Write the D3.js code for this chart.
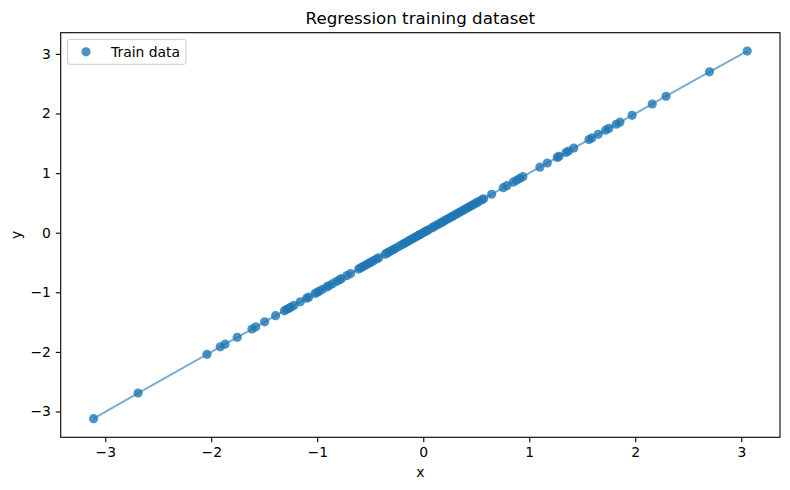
<!DOCTYPE html>
<html><head><meta charset="utf-8">
<script src="https://cdn.jsdelivr.net/npm/d3@7"></script>
<style>
body{margin:0;background:#fff;}
text{font-family:"DejaVu Sans",sans-serif;fill:#000;}
</style></head>
<body><svg id="c" width="790" height="490"></svg>
<script>
const xValues = [-3.11,-2.69,-2.04,-1.915,-1.87,-1.755,-1.616,-1.58,-1.496,-1.393,
 -1.31,-1.29,-1.27,-1.25,-1.22,-1.16,-1.10,-1.08,-1.02,-1.00,-0.98,-0.95,-0.91,-0.89,-0.86,-0.82,-0.79,-0.77,-0.72,-0.685,
 -0.61,-0.59,-0.57,-0.55,-0.53,-0.51,-0.49,-0.47,-0.44,-0.42,-0.36,-0.34,-0.32,-0.30,-0.28,-0.26,-0.23,-0.20,-0.18,-0.16,
 -0.14,-0.12,-0.10,-0.08,-0.06,-0.04,-0.03,-0.01,0.01,0.03,0.05,0.08,0.10,0.12,0.14,0.16,0.18,0.20,0.22,0.24,
 0.26,0.28,0.30,0.32,0.34,0.36,0.38,0.40,0.42,0.44,0.46,0.48,0.50,0.52,0.55,0.57,0.645,
 0.755,0.79,0.85,0.88,0.91,0.94,1.10,1.17,1.264,1.28,1.346,1.37,1.42,1.563,1.59,1.65,1.72,1.75,1.82,1.855,1.97,2.16,2.29,2.70,3.056];
const yValues = [-3.12,-2.69,-2.04,-1.915,-1.87,-1.755,-1.616,-1.58,-1.496,-1.393,
 -1.31,-1.29,-1.27,-1.25,-1.22,-1.16,-1.10,-1.08,-1.02,-1.00,-0.98,-0.95,-0.91,-0.89,-0.86,-0.82,-0.79,-0.77,-0.72,-0.685,
 -0.61,-0.59,-0.57,-0.55,-0.53,-0.51,-0.49,-0.47,-0.44,-0.42,-0.36,-0.34,-0.32,-0.30,-0.28,-0.26,-0.23,-0.20,-0.18,-0.16,
 -0.14,-0.12,-0.10,-0.08,-0.06,-0.04,-0.03,-0.01,0.01,0.03,0.05,0.08,0.10,0.12,0.14,0.16,0.18,0.20,0.22,0.24,
 0.26,0.28,0.30,0.32,0.34,0.36,0.38,0.40,0.42,0.44,0.46,0.48,0.50,0.52,0.55,0.57,0.645,
 0.755,0.79,0.85,0.88,0.91,0.94,1.10,1.17,1.264,1.28,1.346,1.37,1.42,1.563,1.59,1.65,1.72,1.75,1.82,1.855,1.97,2.16,2.29,2.70,3.048];
const xTicks = [-3,-2,-1,0,1,2,3];
const yTicks = [-3,-2,-1,0,1,2,3];
const titleText = "Regression training dataset";
const legendLabel = "Train data";

const svg = d3.select("#c");
const L = 60.7, R = 780, T = 32.7, B = 437.3;
const color = "#1f77b4";
const x = d3.scaleLinear().domain([-3.42, 3.365]).range([L, R]);
const y = d3.scaleLinear().domain([-3.433, 3.356]).range([B, T]);

const pts = xValues.map((v,i)=>({x:v,y:yValues[i]})).sort((a,b)=>a.x-b.x);

const g = svg.append("g");
g.append("path").datum(pts)
 .attr("d", d3.line().x(d=>x(d.x)).y(d=>y(d.y)))
 .attr("fill","none").attr("stroke",color).attr("stroke-opacity",0.6).attr("stroke-width",2);
g.selectAll("circle.p").data(pts).enter().append("circle").attr("class","p")
 .attr("cx",d=>x(d.x)).attr("cy",d=>y(d.y)).attr("r",4.6)
 .attr("fill",color).attr("fill-opacity",0.8);

const xa = svg.append("g").attr("transform",`translate(0,${B})`)
 .call(d3.axisBottom(x).tickValues(xTicks).tickSize(4.9).tickPadding(4.9).tickFormat(d=>d<0?"\u2212"+Math.abs(d):d));
const ya = svg.append("g").attr("transform",`translate(${L},0)`)
 .call(d3.axisLeft(y).tickValues(yTicks).tickSize(4.9).tickPadding(4.9).tickFormat(d=>d<0?"\u2212"+Math.abs(d):d));
[xa,ya].forEach(a=>{
  a.select(".domain").remove();
  a.selectAll("text").style("font-size","13.9px").style("font-family","DejaVu Sans").attr("fill","#000");
  a.selectAll("line").attr("stroke","#000").attr("stroke-width",1.1);
});
svg.append("rect").attr("x",L).attr("y",T).attr("width",R-L).attr("height",B-T)
 .attr("fill","none").attr("stroke","#000").attr("stroke-width",1.1);

svg.append("text").attr("x",(L+R)/2).attr("y",24).attr("text-anchor","middle")
 .style("font-size","16.7px").text(titleText);
svg.append("text").attr("x",(L+R)/2).attr("y",477).attr("text-anchor","middle")
 .style("font-size","13.9px").text("x");
svg.append("text").attr("transform",`translate(21,${(T+B)/2}) rotate(-90)`).attr("text-anchor","middle")
 .style("font-size","13.9px").text("y");

const lg = svg.append("g");
lg.append("rect").attr("x",67.5).attr("y",39.3).attr("width",118.5).attr("height",25).attr("rx",2.5)
 .attr("fill","#fff").attr("fill-opacity",0.8).attr("stroke","#ccc").attr("stroke-width",1);
lg.append("circle").attr("cx",86).attr("cy",51.8).attr("r",4.6).attr("fill",color).attr("fill-opacity",0.8);
lg.append("text").attr("x",111).attr("y",56.8).style("font-size","13.9px").text(legendLabel);
</script></body></html>
